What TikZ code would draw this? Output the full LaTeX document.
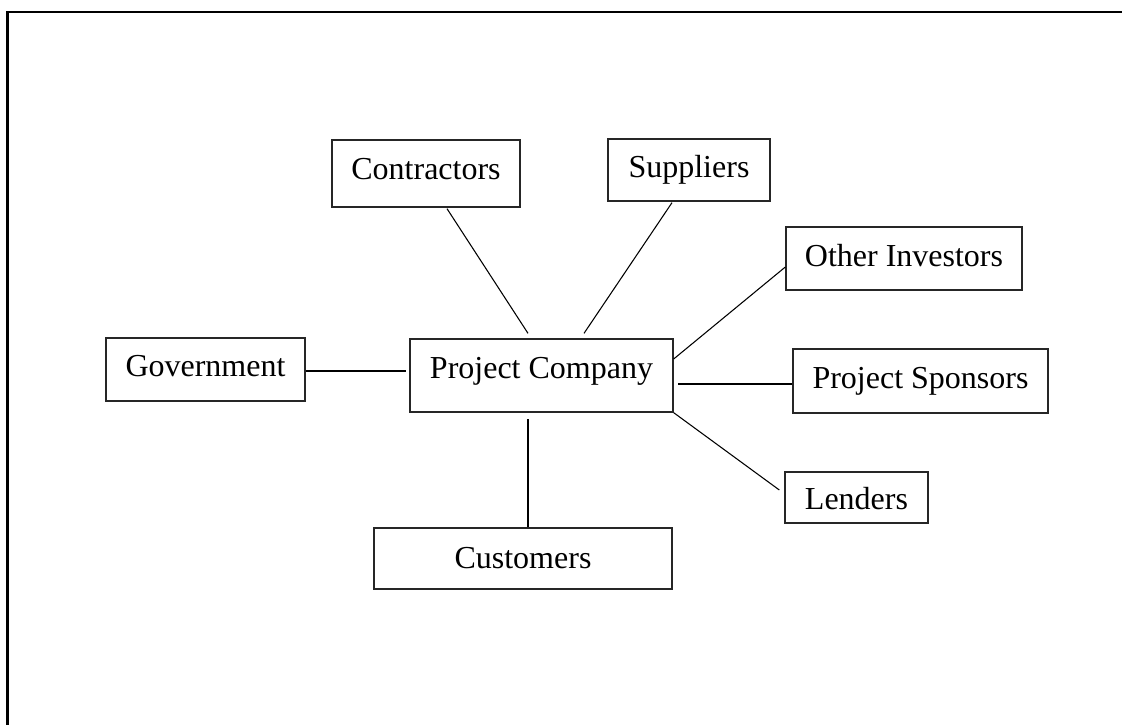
\documentclass[tikz,border=0pt]{standalone}
\usepackage{fontspec}
\setmainfont{Liberation Serif}
\usetikzlibrary{calc}
\begin{document}
\begin{tikzpicture}[x=0.75pt,y=-0.75pt,
  entity/.style={draw=black!85, line width=1pt, rectangle, inner sep=0pt,
    font=\fontsize{24}{28}\selectfont, text height=16pt, text depth=5.3pt},
  link/.style={draw=black, line width=0.8pt}]
  \useasboundingbox (0,0) rectangle (1122,725);
  % page frame
  \draw[line width=2.2pt] (7.5,725) -- (7.5,12) -- (1122,12);

  % parties
  \node[entity, minimum width=197.25pt, minimum height=54.75pt, text depth=12pt] (pc) at (541.5,375.5) {Project Company};
  \node[entity, minimum width=149.25pt, minimum height=47.25pt] (gov) at (205.5,369.5) {Government};
  \node[entity, minimum width=141pt, minimum height=50.25pt, text depth=7.5pt] (ctr) at (426,173.5) {Contractors};
  \node[entity, minimum width=121.5pt, minimum height=46.5pt] (sup) at (689,170) {Suppliers};
  \node[entity, minimum width=177pt, minimum height=47.25pt, text depth=3.8pt] (inv) at (904,258.5) {Other Investors};
  \node[entity, minimum width=191.25pt, minimum height=48pt] (spon) at (920.5,381) {Project Sponsors};
  \node[entity, minimum width=107.25pt, minimum height=38.25pt, text height=18.1pt, text depth=0pt] (len) at (856.5,497.5) {Lenders};
  \node[entity, minimum width=223.5pt, minimum height=45.75pt, text depth=1.5pt] (cust) at (523,558.5) {Customers};

  % relationships
  \draw[link] ($(gov.east)+(0,1.5)$) -- ($(pc.west)+(-3,-4.5)$);
  \draw[link] ($(ctr.south)+(21,1)$) -- ($(pc.north)+(-13.5,-5)$);
  \draw[link] ($(sup.south)+(-17,1)$) -- ($(pc.north)+(42.5,-5)$);
  \draw[link] ($(inv.west)+(0,8.5)$) -- ($(pc.east)+(0,-16.5)$);
  \draw[link] ($(spon.west)+(0,3)$) -- ($(pc.east)+(4,8.5)$);
  \draw[link] ($(len.west)+(-5,-7.5)$) -- (pc.south east);
  \draw[link] ($(cust.north)+(5,0)$) -- ($(pc.south)+(-13.5,6)$);
\end{tikzpicture}
\end{document}
